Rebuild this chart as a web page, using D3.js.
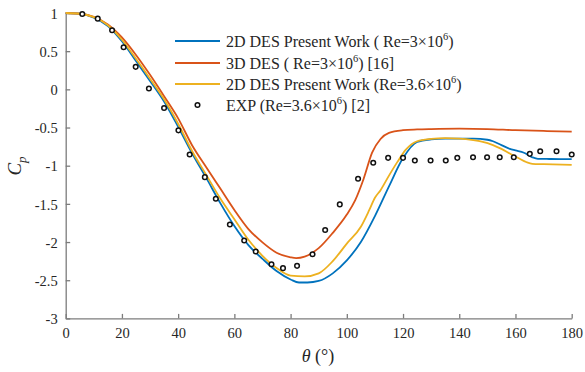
<!DOCTYPE html>
<html>
<head>
<meta charset="utf-8">
<script src="https://cdn.jsdelivr.net/npm/d3@7"></script>
<style>
  body { margin: 0; background: #fff; }
  svg { display: block; }
  text { font-family: "Liberation Serif", "Times New Roman", serif; }
</style>
</head>
<body>
<svg id="chart" width="585" height="372"></svg>
<script>
// Pressure coefficient around the cylinder, Cp versus angle theta (deg)

// 2D DES present work, Re = 3e6
const des2dRe3Theta = [0, 5, 10, 15, 20, 25, 30, 35, 40, 45, 50, 55, 60, 65, 70, 75, 80, 83, 86, 90, 95, 100, 105, 110, 115, 120, 125, 130, 135, 140, 145, 150, 152, 155, 158, 160, 163, 166, 168, 172, 176, 180];
const des2dRe3Cp    = [1.00, 0.99, 0.94, 0.83, 0.63, 0.37, 0.11, -0.16, -0.49, -0.84, -1.16, -1.49, -1.79, -2.04, -2.22, -2.38, -2.49, -2.53, -2.53, -2.51, -2.41, -2.24, -2.00, -1.66, -1.27, -0.90, -0.69, -0.655, -0.645, -0.645, -0.645, -0.66, -0.68, -0.73, -0.78, -0.80, -0.83, -0.89, -0.91, -0.912, -0.913, -0.915];

// 3D DES [16], Re = 3e6
const des3dTheta = [0, 5, 10, 15, 20, 25, 30, 35, 40, 45, 50, 55, 60, 65, 70, 75, 80, 82, 85, 90, 95, 100, 103, 106, 109, 112, 115, 120, 125, 130, 140, 150, 160, 170, 180];
const des3dCp    = [1.00, 0.99, 0.95, 0.85, 0.68, 0.45, 0.19, -0.09, -0.38, -0.735, -1.02, -1.30, -1.58, -1.83, -2.005, -2.14, -2.20, -2.21, -2.19, -2.08, -1.88, -1.64, -1.45, -1.17, -0.83, -0.65, -0.57, -0.535, -0.525, -0.52, -0.515, -0.52, -0.535, -0.545, -0.553];

// 2D DES present work, Re = 3.6e6
const des2dRe36Theta = [0, 5, 10, 15, 20, 25, 30, 35, 40, 45, 50, 55, 60, 65, 70, 75, 80, 85, 90, 95, 100, 105, 108, 110, 112, 115, 118, 121, 125, 130, 135, 140, 145, 148, 152, 155, 158, 161, 164, 166, 170, 180];
const des2dRe36Cp    = [1.00, 0.99, 0.945, 0.84, 0.65, 0.40, 0.14, -0.13, -0.45, -0.81, -1.12, -1.43, -1.70, -1.97, -2.18, -2.34, -2.44, -2.45, -2.41, -2.25, -2.02, -1.80, -1.58, -1.42, -1.32, -1.13, -0.95, -0.79, -0.68, -0.65, -0.64, -0.645, -0.665, -0.685, -0.73, -0.78, -0.84, -0.90, -0.955, -0.975, -0.98, -0.99];

// Experiment [2], Re = 3.6e6
const expTheta = [5.9, 11.4, 16.5, 20.6, 24.9, 29.6, 35.0, 40.1, 44.1, 49.5, 53.4, 58.4, 63.5, 67.6, 73.2, 77.3, 82.3, 87.8, 92.3, 97.5, 104.0, 109.4, 114.7, 120.0, 124.2, 129.8, 135.2, 139.3, 144.9, 149.9, 154.4, 159.4, 165.1, 168.8, 174.6, 180.0];
const expCp    = [0.987, 0.926, 0.774, 0.552, 0.295, 0.012, -0.244, -0.537, -0.854, -1.150, -1.432, -1.771, -1.980, -2.124, -2.290, -2.342, -2.312, -2.159, -1.842, -1.507, -1.171, -0.962, -0.897, -0.897, -0.932, -0.932, -0.932, -0.897, -0.889, -0.889, -0.889, -0.889, -0.845, -0.811, -0.811, -0.854];

const xTicks = [0, 20, 40, 60, 80, 100, 120, 140, 160, 180];
const yTicks = [-3, -2.5, -2, -1.5, -1, -0.5, 0, 0.5, 1];

const colors = { blue: "#0072BD", red: "#D95319", yellow: "#EDB120" };

const svg = d3.select("#chart");
svg.append("rect").attr("width", 585).attr("height", 372).attr("fill", "#fff");

const x = d3.scaleLinear().domain([0, 180]).range([65.7, 571.7]);
const y = d3.scaleLinear().domain([-3, 1]).range([318.4, 13]);

const axisColor = "#7c7c7c";
const textColor = "#262626";

// Axes (box off, ticks pointing inward)
const gx = svg.append("g")
  .attr("transform", `translate(0,${y(-3)})`)
  .call(d3.axisBottom(x).tickValues(xTicks).tickFormat(d3.format("d"))
    .tickSizeInner(-4.5).tickSizeOuter(0).tickPadding(9));
const gy = svg.append("g")
  .attr("transform", `translate(${x(0)},0)`)
  .call(d3.axisLeft(y).tickValues(yTicks).tickFormat(d => String(d))
    .tickSizeInner(-4.5).tickSizeOuter(0).tickPadding(8));

[gx, gy].forEach(g => {
  g.select(".domain").attr("stroke", axisColor).attr("stroke-width", 1.3);
  g.selectAll(".tick line").attr("stroke", axisColor).attr("stroke-width", 1.3);
  g.selectAll(".tick text")
    .attr("fill", textColor)
    .style("font-family", '"Liberation Serif", "Times New Roman", serif')
    .style("font-size", "14.5px");
});
gy.selectAll(".tick text").attr("dy", "0.36em");

// Series
const line = d3.line().x(d => x(d[0])).y(d => y(d[1])).curve(d3.curveMonotoneX);
const zip = (a, b) => a.map((v, i) => [v, b[i]]);

const series = [
  { data: zip(des2dRe3Theta, des2dRe3Cp), color: colors.blue },
  { data: zip(des3dTheta, des3dCp), color: colors.red },
  { data: zip(des2dRe36Theta, des2dRe36Cp), color: colors.yellow }
];

series.forEach(s => {
  svg.append("path")
    .datum(s.data)
    .attr("fill", "none")
    .attr("stroke", s.color)
    .attr("stroke-width", 1.8)
    .attr("stroke-linejoin", "round")
    .attr("d", line);
});

svg.append("g").selectAll("circle")
  .data(zip(expTheta, expCp))
  .join("circle")
  .attr("cx", d => x(d[0]))
  .attr("cy", d => y(d[1]))
  .attr("r", 2.3)
  .attr("fill", "#fff")
  .attr("stroke", "#111")
  .attr("stroke-width", 1.5);

// Axis titles
const yTitle = svg.append("text")
  .attr("transform", "translate(21,166) rotate(-90)")
  .attr("text-anchor", "middle")
  .attr("fill", textColor)
  .style("font-size", "19px")
  .style("font-style", "italic");
yTitle.append("tspan").text("C");
yTitle.append("tspan").attr("dy", 5).style("font-size", "13px").text("p");

const xTitle = svg.append("text")
  .attr("x", 318)
  .attr("y", 362)
  .attr("text-anchor", "middle")
  .attr("fill", textColor)
  .style("font-size", "18px");
xTitle.append("tspan").style("font-style", "italic").text("θ");
xTitle.append("tspan").text(" (°)");

// Legend
const legendItems = [
  { type: "line", color: colors.blue, pre: "2D DES Present Work ( Re=3×10", post: ")" },
  { type: "line", color: colors.red, pre: "3D DES ( Re=3×10", post: ") [16]" },
  { type: "line", color: colors.yellow, pre: "2D DES Present Work (Re=3.6×10", post: ")" },
  { type: "marker", color: "#111", pre: "EXP (Re=3.6×10", post: ") [2]" }
];
const legendY = [41, 63, 84, 105];

const legend = svg.append("g");
legendItems.forEach((it, i) => {
  const ly = legendY[i];
  if (it.type === "line") {
    legend.append("line")
      .attr("x1", 175).attr("x2", 220)
      .attr("y1", ly).attr("y2", ly)
      .attr("stroke", it.color).attr("stroke-width", 1.8);
  } else {
    legend.append("circle")
      .attr("cx", 197.5).attr("cy", ly).attr("r", 2.3)
      .attr("fill", "#fff").attr("stroke", it.color).attr("stroke-width", 1.5);
  }
  const t = legend.append("text")
    .attr("x", 226).attr("y", ly + 5.5)
    .attr("fill", textColor)
    .style("font-size", "16px");
  t.append("tspan").text(it.pre);
  t.append("tspan").attr("dy", -6.5).style("font-size", "10.5px").text("6");
  t.append("tspan").attr("dy", 6.5).text(it.post);
});
</script>
</body>
</html>
